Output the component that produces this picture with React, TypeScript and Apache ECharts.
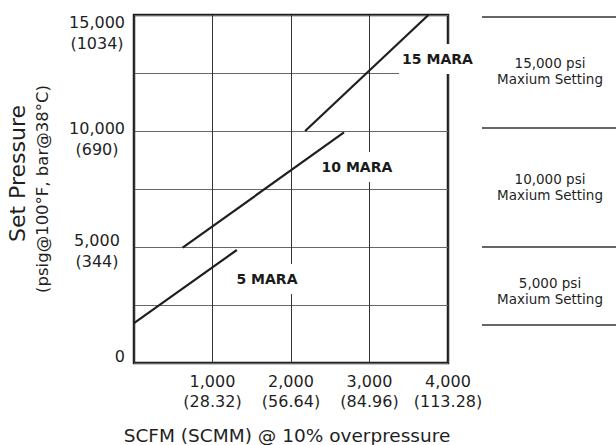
import React, { useEffect, useRef } from 'react';
import * as echarts from 'echarts';

// ---- data ----
const xTickValues = [1000, 2000, 3000, 4000];
const xTickScfm = ['1,000', '2,000', '3,000', '4,000'];
const xTickScmm = ['(28.32)', '(56.64)', '(84.96)', '(113.28)'];

const yTickValues = [0, 5000, 10000, 15000];
const yTickPsig = ['0', '5,000', '10,000', '15,000'];
const yTickBar = ['', '(344)', '(690)', '(1034)'];

const seriesNames = ['5 MARA', '10 MARA', '15 MARA'];
const mara5 = [[0, 1720], [1310, 4870]];
const mara10 = [[620, 4970], [2675, 9940]];
const mara15 = [[2180, 10000], [3750, 15000]];
const seriesLabelAt = [[1694, 3620], [2840, 8450], [3866, 13100]];

const settingPsi = ['15,000 psi', '10,000 psi', '5,000 psi'];
const settingText = 'Maxium Setting';

const xTitle = 'SCFM (SCMM) @ 10% overpressure';
const yTitle = 'Set Pressure';
const ySubTitle = '(psig@100°F, bar@38°C)';

// ---- styles ----
const FONT = 'DejaVu Sans';
const INK = '#1f1f1f';
const yLabelShift = [-17.5, -17, -13.5, -3.5];
const settingTops = [54.5, 170.5, 274.5];
const settingRules = [17, 128, 247, 325];

export default function App() {
  const ref = useRef<HTMLDivElement>(null);
  useEffect(() => {
    if (!ref.current) return;
    const chart = echarts.init(ref.current, undefined, { renderer: 'svg' });
    const lineData = [mara5, mara10, mara15];
    const option: any = {
      animation: false,
      textStyle: { fontFamily: FONT, color: INK },
      grid: {
        left: 134, right: 168, top: 15, bottom: 82,
        show: true, borderColor: INK, borderWidth: 2.5, backgroundColor: 'transparent',
      },
      xAxis: {
        type: 'value', min: 0, max: 4000, interval: 1000,
        axisLine: { show: false },
        axisTick: { show: false },
        splitLine: { show: true, lineStyle: { color: '#333', width: 1 } },
        axisLabel: {
          margin: 8, fontSize: 16, lineHeight: 20, color: INK, fontFamily: FONT,
          formatter: (v: number) => {
            const i = xTickValues.indexOf(v);
            return i < 0 ? '' : `${xTickScfm[i]}\n${xTickScmm[i]}`;
          },
        },
      },
      yAxis: {
        type: 'value', min: 0, max: 15000, interval: 2500,
        axisLine: { show: false },
        axisTick: { show: false },
        axisLabel: { show: false },
        splitLine: { show: true, lineStyle: { color: '#666', width: 1 } },
      },
      series: [
        ...lineData.map((d, i) => ({
          type: 'line', name: seriesNames[i], data: d, showSymbol: false, symbol: 'none',
          lineStyle: { color: INK, width: 2.2 }, z: 3,
        })),
        {
          type: 'scatter', symbolSize: 1, itemStyle: { color: 'rgba(255,255,255,0)' }, z: 5,
          data: seriesLabelAt.map((p, i) => ({ value: p, name: seriesNames[i] })),
          label: {
            show: true, position: 'inside', formatter: '{b}', color: '#1a1a1a', opacity: 1,
            textBorderWidth: 0, textBorderColor: 'transparent',
            fontFamily: FONT, fontSize: 14, fontWeight: 'bold',
            backgroundColor: '#fff', padding: [8, 3],
          },
        },
      ],
    };
    chart.setOption(option);

    const graphics: any[] = [];
    yTickValues.forEach((v, i) => {
      const py = (chart.convertToPixel({ gridIndex: 0 } as any, [0, v]) as number[])[1];
      const txt = yTickBar[i] ? `${yTickPsig[i]}\n${yTickBar[i]}` : yTickPsig[i];
      graphics.push({
        type: 'text', x: yTickBar[i] ? 97 : 125, y: py + yLabelShift[i],
        style: {
          text: txt, fontFamily: FONT, fontSize: 16, lineHeight: 21, fill: INK,
          textAlign: yTickBar[i] ? 'center' : 'right', textVerticalAlign: 'top',
        },
      });
    });
    graphics.push({
      type: 'text', x: 17.5, y: 173.5, rotation: Math.PI / 2,
      style: { text: yTitle, fontFamily: FONT, fontSize: 22, fill: INK, textAlign: 'center', textVerticalAlign: 'middle' },
    });
    graphics.push({
      type: 'text', x: 42, y: 189, rotation: Math.PI / 2,
      style: { text: ySubTitle, fontFamily: FONT, fontSize: 16.5, fill: INK, textAlign: 'center', textVerticalAlign: 'middle' },
    });
    graphics.push({
      type: 'text', x: 287, y: 435,
      style: { text: xTitle, fontFamily: FONT, fontSize: 18.5, fill: INK, textAlign: 'center', textVerticalAlign: 'middle' },
    });
    settingRules.forEach((y) => {
      graphics.push({
        type: 'line', shape: { x1: 482, y1: y, x2: 616, y2: y },
        style: { stroke: '#333', lineWidth: 1.5 },
      });
    });
    settingPsi.forEach((t, i) => {
      graphics.push({
        type: 'text', x: 550, y: settingTops[i],
        style: {
          text: `${t}\n${settingText}`, fontFamily: FONT, fontSize: 13.5, lineHeight: 16.5,
          fill: INK, textAlign: 'center', textVerticalAlign: 'top',
        },
      });
    });
    chart.setOption({ graphic: graphics });
    return () => chart.dispose();
  }, []);
  return <div ref={ref} style={{ position: 'absolute', left: 0, top: 0, width: 616, height: 445 }} />;
}
